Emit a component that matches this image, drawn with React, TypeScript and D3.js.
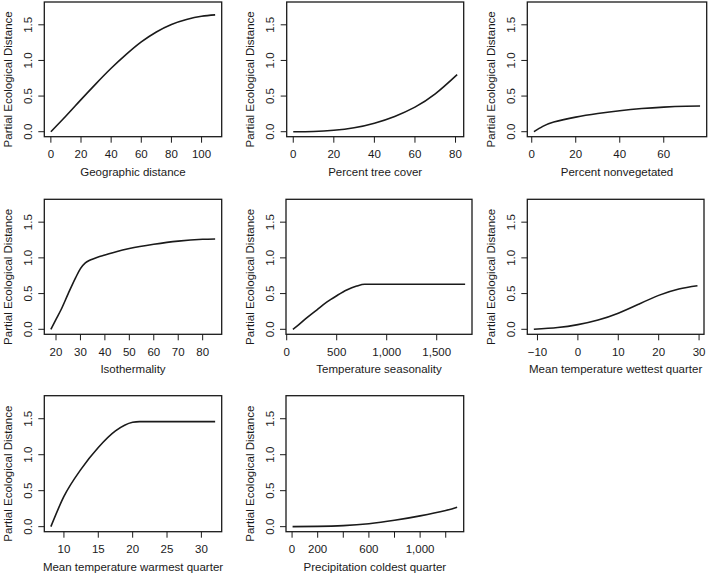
import React from "react";
import * as d3 from "d3";

// ---- data ----
const geoX = [0, 10, 20, 30, 40, 50, 60, 70, 80, 90, 100, 109];
const geoY = [0, 0.22, 0.45, 0.675, 0.89, 1.085, 1.26, 1.4, 1.505, 1.575, 1.62, 1.64];

const treeX = [0, 10, 20, 30, 40, 50, 60, 70, 80.8];
const treeY = [0, 0.004, 0.02, 0.055, 0.12, 0.215, 0.345, 0.53, 0.8];

const nonvegX = [1, 5, 10, 20, 30, 40, 50, 60, 70, 76.5];
const nonvegY = [0, 0.075, 0.135, 0.205, 0.255, 0.295, 0.325, 0.345, 0.357, 0.36];

const isoX = [17.9, 20, 22, 25, 28, 30, 32, 34, 37, 40, 45, 50, 60, 70, 80, 85.1];
const isoY = [0, 0.14, 0.27, 0.5, 0.72, 0.85, 0.93, 0.97, 1.01, 1.04, 1.09, 1.13, 1.19, 1.235, 1.26, 1.265];

const seasX = [62, 100, 200, 300, 400, 500, 600, 700, 780, 1000, 1400, 1784];
const seasY = [0, 0.04, 0.16, 0.27, 0.38, 0.47, 0.55, 0.605, 0.63, 0.63, 0.63, 0.63];

const wetX = [-10.9, -5, 0, 5, 10, 15, 20, 25, 29.6];
const wetY = [0, 0.025, 0.065, 0.13, 0.225, 0.35, 0.475, 0.565, 0.61];

const warmX = [8.1, 10, 12.5, 15, 17.5, 20, 21, 25, 32];
const warmY = [0, 0.42, 0.8, 1.1, 1.33, 1.45, 1.46, 1.46, 1.46];

const precX = [4, 200, 400, 600, 800, 1000, 1200, 1289];
const precY = [0, 0.004, 0.014, 0.04, 0.088, 0.15, 0.225, 0.27];

const yTicks = [0, 0.5, 1.0, 1.5];
const yTickLabels = ["0.0", "0.5", "1.0", "1.5"];
const yLimits = [0, 1.75];
const yTitle = "Partial Ecological Distance";

const xTitles = [
  "Geographic distance",
  "Percent tree cover",
  "Percent nonvegetated",
  "Isothermality",
  "Temperature seasonality",
  "Mean temperature wettest quarter",
  "Mean temperature warmest quarter",
  "Precipitation coldest quarter",
];

const xTickValues = [
  [0, 20, 40, 60, 80, 100],
  [0, 20, 40, 60, 80],
  [0, 20, 40, 60],
  [20, 30, 40, 50, 60, 70, 80],
  [0, 500, 1000, 1500],
  [-10, 0, 10, 20, 30],
  [10, 15, 20, 25, 30],
  [0, 200, 400, 600, 800, 1000, 1200],
];
const xTickLabels = [
  ["0", "20", "40", "60", "80", "100"],
  ["0", "20", "40", "60", "80"],
  ["0", "20", "40", "60"],
  ["20", "30", "40", "50", "60", "70", "80"],
  ["0", "500", "1,000", "1,500"],
  ["\u221210", "0", "10", "20", "30"],
  ["10", "15", "20", "25", "30"],
  ["0", "200", "", "600", "", "1,000", ""],
];

const seriesX = [geoX, treeX, nonvegX, isoX, seasX, wetX, warmX, precX];
const seriesY = [geoY, treeY, nonvegY, isoY, seasY, wetY, warmY, precY];
// panels whose curve reaches a flat plateau keep a monotone interpolation
const plateau = [false, false, false, true, true, false, true, false];

// ---- layout ----
const rows = [
  [2, 136.7],
  [199.3, 334.3],
  [395.7, 531.7],
];
const boxes = [
  { row: 0, left: 44.3, right: 221.7 },
  { row: 0, left: 286.7, right: 463.7 },
  { row: 0, left: 527.3, right: 706.7 },
  { row: 1, left: 44.3, right: 221.7 },
  { row: 1, left: 286, right: 472 },
  { row: 1, left: 527.3, right: 704 },
  { row: 2, left: 44.3, right: 221.7 },
  { row: 2, left: 286, right: 463.7 },
];

const FONT = "'Liberation Sans', Arial, Helvetica, sans-serif";
const FS = 11.5;
const INK = "#1a1a1a";

function pad(ext: [number, number]): [number, number] {
  const r = ext[1] - ext[0];
  return [ext[0] - 0.04 * r, ext[1] + 0.04 * r];
}

function Panel({ i }: { i: number }) {
  const b = boxes[i];
  const [top, bottom] = rows[b.row];
  const xs = seriesX[i];
  const ys = seriesY[i];
  const x = d3.scaleLinear().domain(pad(d3.extent(xs) as [number, number])).range([b.left, b.right]);
  const y = d3.scaleLinear().domain(pad(yLimits as [number, number])).range([bottom, top]);
  const pts = xs.map((v, k) => [v, ys[k]] as [number, number]);
  const line = d3
    .line<[number, number]>()
    .x((d) => x(d[0]))
    .y((d) => y(d[1]))
    .curve(plateau[i] ? d3.curveMonotoneX : d3.curveNatural);
  const tick = 6;
  return (
    <g>
      <rect
        x={b.left}
        y={top}
        width={b.right - b.left}
        height={bottom - top}
        fill="none"
        stroke={INK}
        strokeWidth={1.3}
      />
      <path d={line(pts) || ""} fill="none" stroke={INK} strokeWidth={1.6} />
      {xTickValues[i].map((t, k) => (
        <g key={"x" + k}>
          <line x1={x(t)} x2={x(t)} y1={bottom} y2={bottom + tick} stroke={INK} strokeWidth={1} />
          <text
            x={x(t)}
            y={bottom + 21.5}
            textAnchor="middle"
            fontFamily={FONT}
            fontSize={FS}
            fill={INK}
          >
            {xTickLabels[i][k]}
          </text>
        </g>
      ))}
      {yTicks.map((t, k) => (
        <g key={"y" + k}>
          <line x1={b.left - tick} x2={b.left} y1={y(t)} y2={y(t)} stroke={INK} strokeWidth={1} />
          <text
            transform={`translate(${b.left - 12.5},${y(t)}) rotate(-90)`}
            textAnchor="middle"
            fontFamily={FONT}
            fontSize={FS}
            fill={INK}
          >
            {yTickLabels[k]}
          </text>
        </g>
      ))}
      <text
        x={(b.left + b.right) / 2}
        y={bottom + 39}
        textAnchor="middle"
        fontFamily={FONT}
        fontSize={FS}
        fill={INK}
      >
        {xTitles[i]}
      </text>
      <text
        transform={`translate(${b.left - 32.5},${(top + bottom) / 2 + 10}) rotate(-90)`}
        textAnchor="middle"
        fontFamily={FONT}
        fontSize={FS}
        fill={INK}
      >
        {yTitle}
      </text>
    </g>
  );
}

export default function App() {
  return (
    <svg
      width={709}
      height={576}
      style={{ position: "absolute", left: 0, top: 0, background: "#fff" }}
    >
      <rect x={0} y={0} width={709} height={576} fill="#fff" />
      {boxes.map((_, i) => (
        <Panel key={i} i={i} />
      ))}
    </svg>
  );
}
